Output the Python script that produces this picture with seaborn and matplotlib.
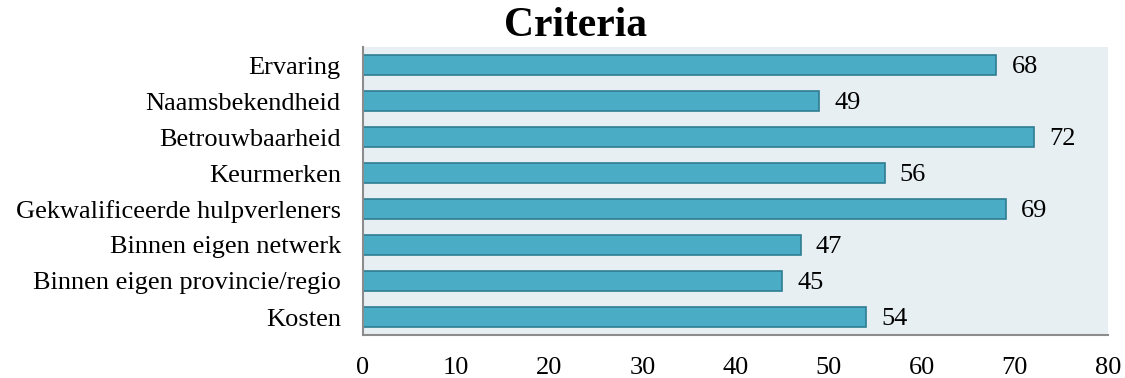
import matplotlib
matplotlib.use("Agg")
import matplotlib.pyplot as plt
import seaborn as sns
import pandas as pd

categories = [
    "Ervaring",
    "Naamsbekendheid",
    "Betrouwbaarheid",
    "Keurmerken",
    "Gekwalificeerde hulpverleners",
    "Binnen eigen netwerk",
    "Binnen eigen provincie/regio",
    "Kosten",
]
values = [68, 49, 72, 56, 69, 47, 45, 54]
x_ticks = [0, 10, 20, 30, 40, 50, 60, 70, 80]

sns.set_theme(style="white")
plt.rcParams["font.family"] = ["Liberation Serif", "DejaVu Serif"]
plt.rcParams["text.color"] = "black"
plt.rcParams["xtick.color"] = "black"
plt.rcParams["ytick.color"] = "black"

df = pd.DataFrame({"criterium": categories, "score": values})

fig = plt.figure(figsize=(11.25, 3.78), dpi=100)
ax = fig.add_axes([363 / 1125, 1 - 335 / 378, (1108 - 363) / 1125, (335 - 47) / 378])

sns.barplot(data=df, x="score", y="criterium", orient="h", color="#4BACC6",
            width=0.58, edgecolor="#2F7D92", linewidth=1.2, saturation=1, ax=ax)

ax.set_facecolor("#E8EFF3")
ax.set_xlim(0, 80)
ax.set_ylim(7.5, -0.5)
ax.set_xticks(x_ticks)
ax.set_xticklabels([str(t) for t in x_ticks])
ax.tick_params(axis="x", length=0, pad=16, labelsize=19, labelcolor="black")
ax.tick_params(axis="y", length=0, pad=16, labelsize=19, labelcolor="black")
ax.set_xlabel("")
ax.set_ylabel("")

for side in ["top", "right"]:
    ax.spines[side].set_visible(False)
for side in ["left", "bottom"]:
    ax.spines[side].set_color("#8C8C8C")
    ax.spines[side].set_linewidth(1.5)

for i, v in enumerate(values):
    ax.annotate(str(v), xy=(v, i), xytext=(11, -1.5), textcoords="offset points",
                va="center", ha="left", fontsize=19, color="black")

fig.text(576 / 1125, 1 - 26 / 378, "Criteria", ha="center", va="center",
         fontsize=30, fontweight="bold", color="black")

fig.savefig("out.png", dpi=100)
